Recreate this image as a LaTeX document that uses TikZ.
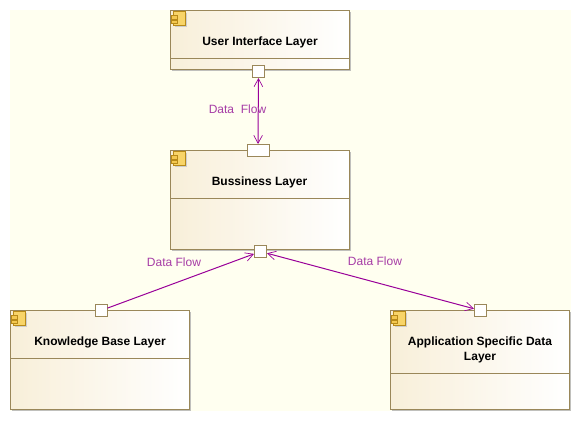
\documentclass[tikz,border=0pt]{standalone}
\usepackage{fontspec}
\setmainfont{Liberation Sans}
\usetikzlibrary{arrows.meta, shadows}
\definecolor{framecol}{HTML}{9A8759}
\definecolor{flowcol}{HTML}{990099}
\definecolor{labelcol}{HTML}{A63CA6}
\definecolor{canvascol}{HTML}{FFFFF0}
\definecolor{creamcol}{HTML}{F8EFD9}
\definecolor{iconfill}{HTML}{F8D468}
\definecolor{icontab}{HTML}{F4C850}
\definecolor{iconedge}{HTML}{B88A18}
\tikzset{%
	layer/.style={
		draw=framecol,
		line width=0.75pt,
		left color=creamcol,
		right color=white,
		minimum width=134.25pt,
		drop shadow={shadow xshift=1pt, shadow yshift=-1pt, fill=black!35, opacity=0.7}
	},
	layer title/.style={
		font=\bfseries\fontsize{9}{11.25}\selectfont,
		align=center,
		text=black,
		inner sep=0pt
	},
	divider/.style={draw=framecol, line width=0.75pt},
	port/.style={
		draw=framecol,
		fill=white,
		line width=0.75pt,
		minimum width=9pt,
		minimum height=9pt,
		inner sep=0pt
	},
	flow/.style={
		draw=flowcol,
		line width=0.75pt
	},
	flow tip/.tip={Straight Barb[length=6pt, width=6.5pt, line width=0.5pt]},
	flow label/.style={
		font=\fontsize{9}{11}\selectfont,
		text=labelcol,
		inner sep=0pt
	},
	icon part/.style={draw=iconedge, line width=0.75pt},
}
\begin{document}
\begin{tikzpicture}[x=0.75pt, y=0.75pt]
	\useasboundingbox (0,0) rectangle (581,-421);
	\fill[canvascol] (10,-10) rectangle (571,-411);

	% Layers
	\node[layer, minimum height=44.25pt] (ui) at (260,-40) {};
	\node[layer, minimum height=74.25pt] (bl) at (260,-200) {};
	\node[layer, minimum height=74.25pt] (kb) at (100,-360) {};
	\node[layer, minimum height=74.25pt] (asd) at (480,-360) {};

	% Dividers
	\draw[divider] (ui.west |- 0,-58.5) -- (ui.east |- 0,-58.5);
	\draw[divider] (bl.west |- 0,-198.5) -- (bl.east |- 0,-198.5);
	\draw[divider] (kb.west |- 0,-358.5) -- (kb.east |- 0,-358.5);
	\draw[divider] (asd.west |- 0,-373.5) -- (asd.east |- 0,-373.5);

	% Titles
	\node[layer title] (uititle) at (260,-42) {User Interface Layer};
	\node[layer title] (bltitle) at (259.5,-182) {Bussiness Layer};
	\node[layer title] (kbtitle) at (100,-342) {Knowledge Base Layer};
	\node[layer title] (asdtitle) at (480,-349.5) {Application Specific Data\\Layer};

	% Component icons
	\foreach \comp in {ui, bl, kb, asd} {
		\begin{scope}[shift={(\comp.north west)}]
			\fill[black!20] (5,-3) rectangle (17,-17);
			\draw[icon part, fill=iconfill] (3.5,-1.5) rectangle (15.5,-15.5);
			\draw[icon part, fill=icontab] (1,-5.5) rectangle (7,-9);
			\draw[icon part, fill=icontab] (1,-10) rectangle (7,-13.5);
		\end{scope}
	}

	% Ports
	\node[port] (uiport) at (258.5,-71.5) {};
	\node[port, minimum width=16.5pt] (bltop) at (258,-150.5) {};
	\node[port] (blbottom) at (260.5,-251.5) {};
	\node[port] (kbport) at (101,-310.5) {};
	\node[port] (asdport) at (480.5,-310.5) {};

	% Connectors
	\draw[flow, {flow tip}-{flow tip}] (uiport) -- (bltop);
	\draw[flow, -{flow tip}] (kbport) -- (blbottom);
	\draw[flow, {flow tip}-{flow tip}] (blbottom) -- (asdport);

	% Labels
	\node[flow label] (uilabel) at (237.5,-109.5) {Data\ \ Flow};
	\node[flow label] (kblabel) at (174,-262.5) {Data Flow};
	\node[flow label] (asdlabel) at (375,-261.5) {Data Flow};
\end{tikzpicture}
\end{document}
